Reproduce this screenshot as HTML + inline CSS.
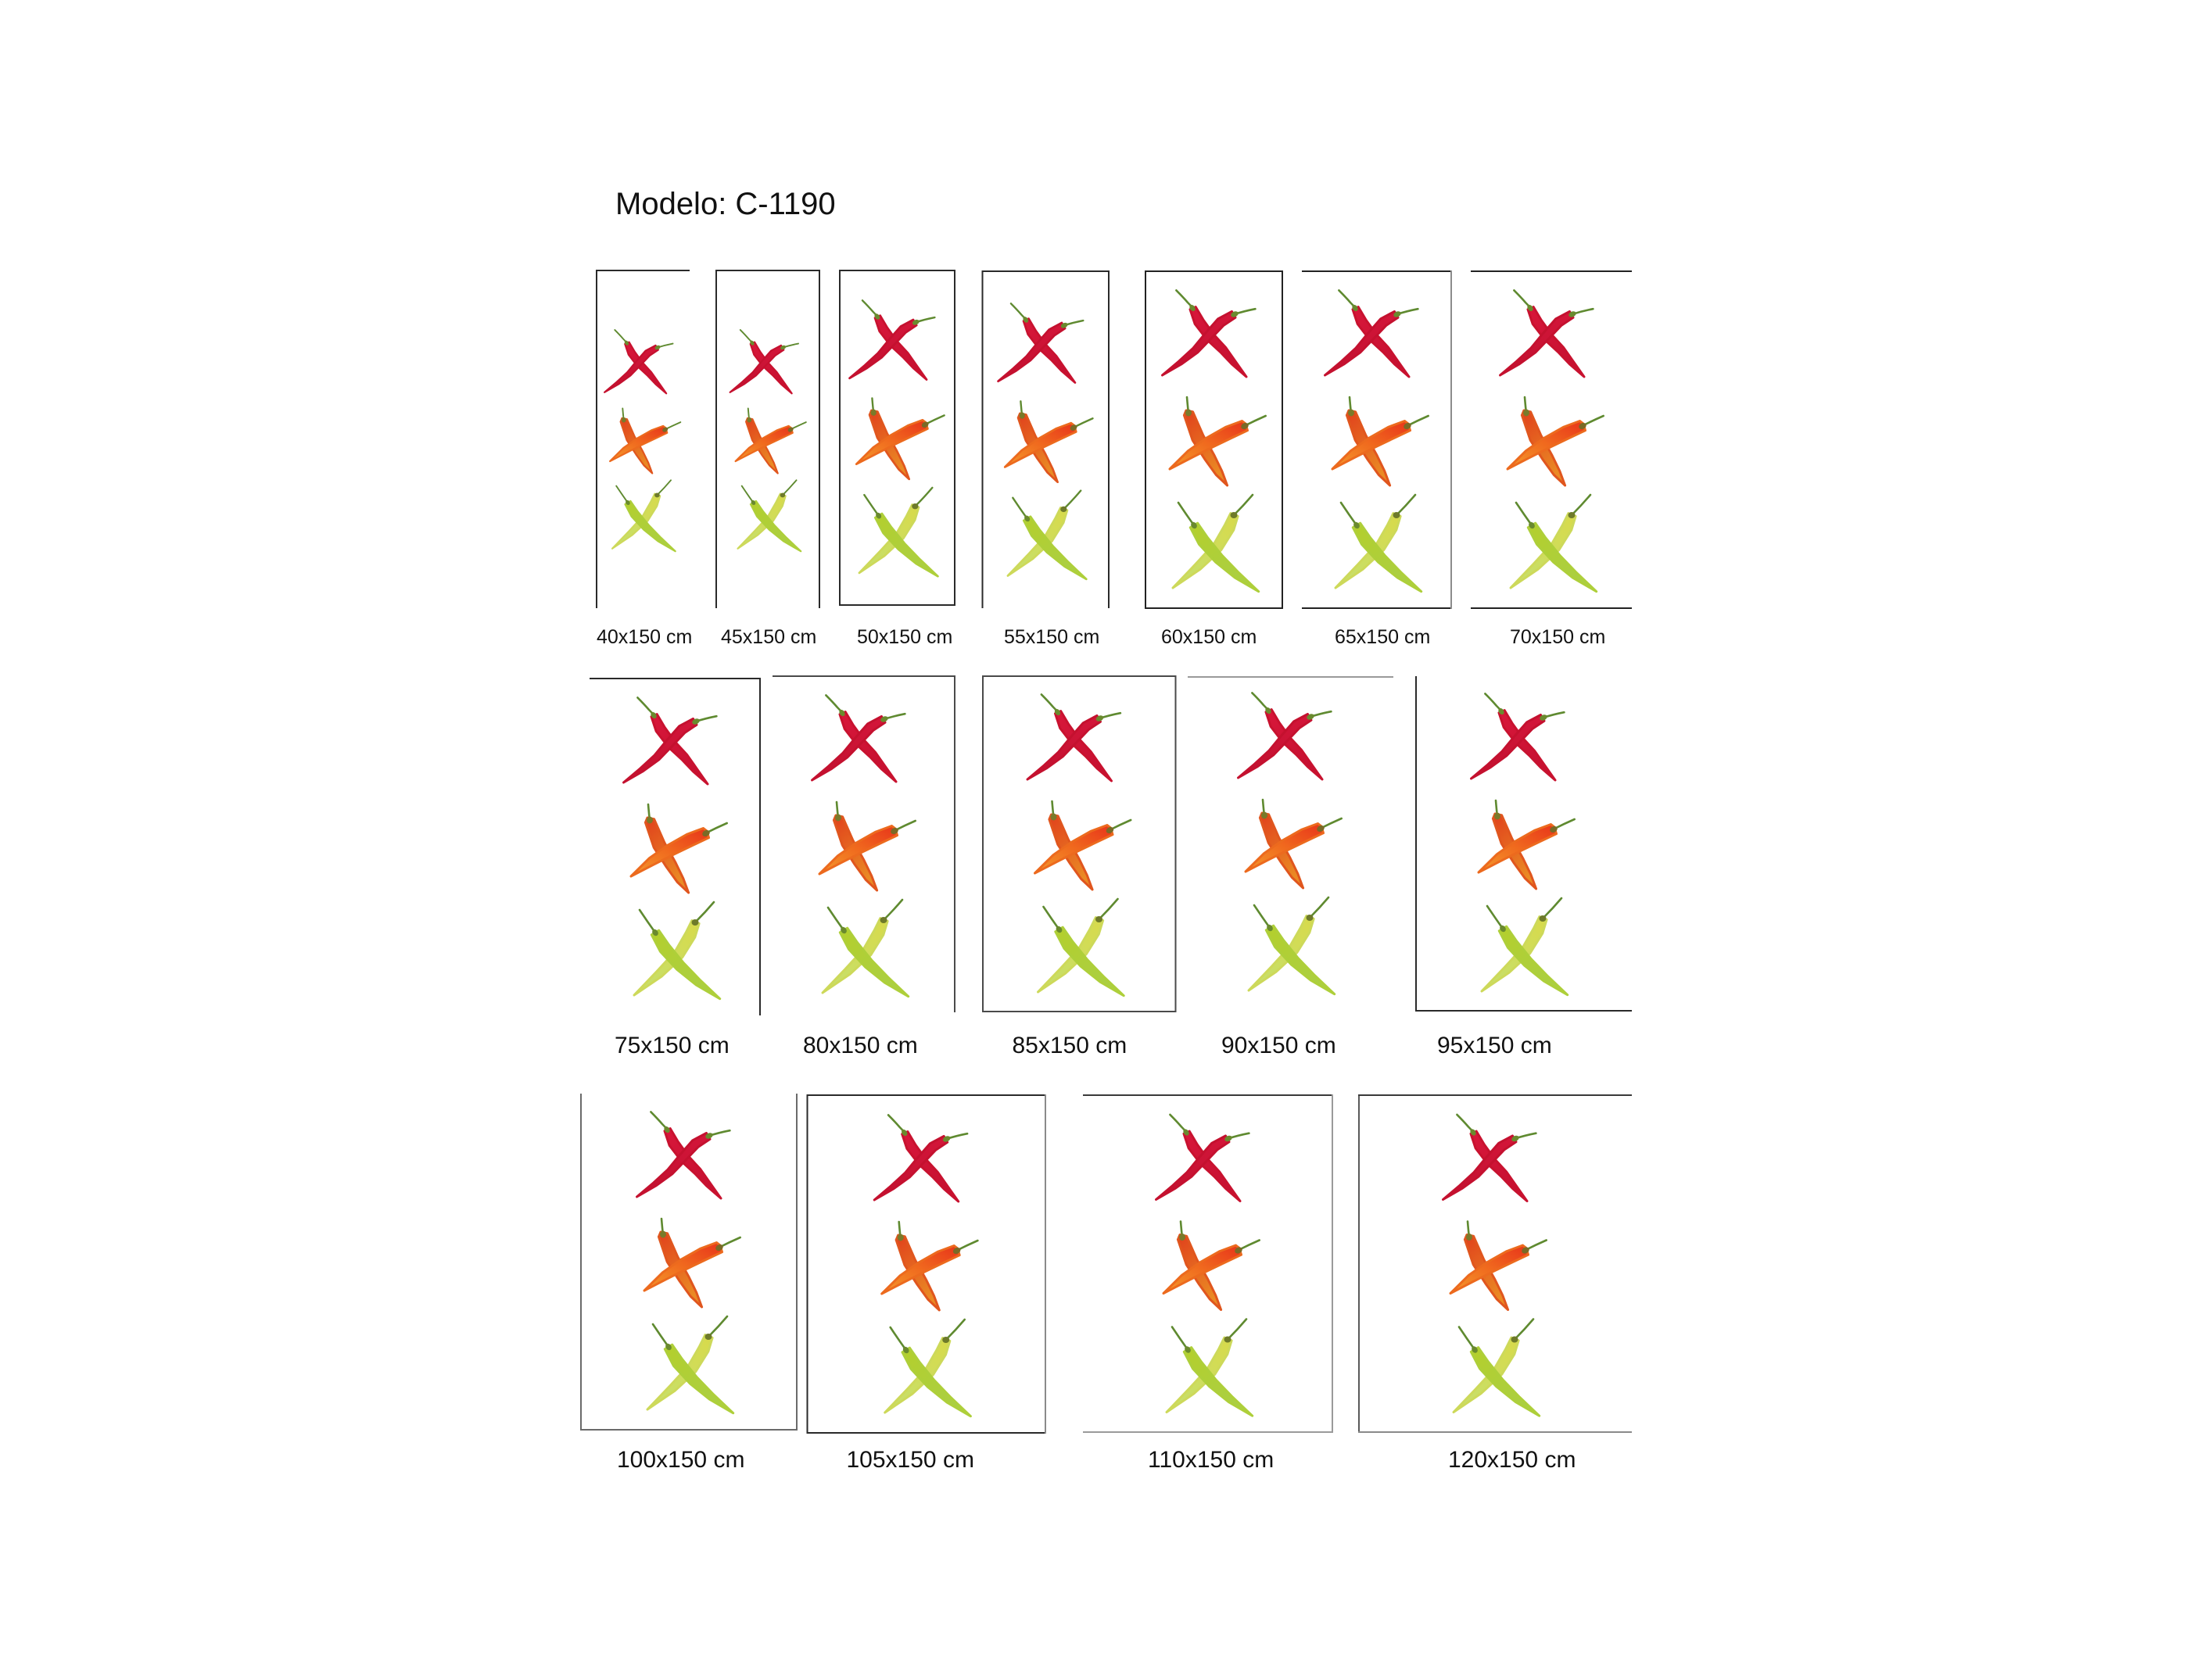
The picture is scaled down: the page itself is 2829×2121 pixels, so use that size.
<!DOCTYPE html>
<html>
<head>
<meta charset="utf-8">
<style>
  html, body { margin:0; padding:0; background:#ffffff; }
  body { width:2829px; height:2121px; overflow:hidden; }
  svg { display:block; }
  text { font-family: "Liberation Sans", Arial, sans-serif; fill:#111; }
</style>
</head>
<body>
<svg width="2829" height="2121" viewBox="0 0 2829 2121" xmlns="http://www.w3.org/2000/svg">
  <defs>
    <linearGradient id="gRedA" x1="0" y1="0" x2="1" y2="1">
      <stop offset="0" stop-color="#d8173a"/>
      <stop offset="1" stop-color="#c20f30"/>
    </linearGradient>
    <linearGradient id="gRedB" x1="1" y1="0" x2="0" y2="1">
      <stop offset="0" stop-color="#d4163a"/>
      <stop offset="1" stop-color="#c0102f"/>
    </linearGradient>
    <linearGradient id="gOrC" x1="0" y1="0" x2="0.5" y2="1">
      <stop offset="0" stop-color="#e0401c"/>
      <stop offset="1" stop-color="#ea8a24"/>
    </linearGradient>
    <linearGradient id="gOrD" x1="1" y1="0" x2="0" y2="1">
      <stop offset="0" stop-color="#e8341a"/>
      <stop offset="0.5" stop-color="#f06a1e"/>
      <stop offset="1" stop-color="#f49a2c"/>
    </linearGradient>
    <linearGradient id="gGrE" x1="0" y1="0" x2="1" y2="1">
      <stop offset="0" stop-color="#b4cf2c"/>
      <stop offset="1" stop-color="#a8cf48"/>
    </linearGradient>
    <linearGradient id="gGrF" x1="1" y1="0" x2="0" y2="1">
      <stop offset="0" stop-color="#d8da4a"/>
      <stop offset="1" stop-color="#c4e070"/>
    </linearGradient>

    <g id="cx">
      <!-- RED X -->
      <path d="M17.4,1.4 Q26,10 32,17 Q36,21 38.6,24.2" fill="none" stroke="#5f8a30" stroke-width="2.6" stroke-linecap="round"/>
      <polygon points="42.2,22.6 52.2,39.5 65.8,58.4 80.9,74.8 93,92.1 107,112 88.4,95.9 74.5,81.2 57,65 41.2,44.5 35,25.8"
               fill="url(#gRedA)" stroke="#c8122f" stroke-width="3" stroke-linejoin="round"/>
      <ellipse cx="38" cy="24" rx="4.5" ry="3.2" fill="#6a8a2e" transform="rotate(55 38 24)"/>
      <path d="M90.7,32.3 Q104,28 118.4,25.2" fill="none" stroke="#5f8a30" stroke-width="2.6" stroke-linecap="round"/>
      <polygon points="93,36.2 78,46.2 61.7,63.4 44.7,80.9 23.8,96 -0.5,110 20.8,92 39.1,75.1 54.3,56.6 70.8,37.8 88.4,28.4"
               fill="url(#gRedB)" stroke="#c4112f" stroke-width="3" stroke-linejoin="round"/>
      <ellipse cx="92" cy="32" rx="5" ry="3.4" fill="#6a8a2e" transform="rotate(-25 92 32)"/>

      <!-- ORANGE X -->
      <path d="M31,138 Q32,150 33,159" fill="none" stroke="#5f8a30" stroke-width="2.6" stroke-linecap="round"/>
      <polygon points="38.6,156.8 51.8,186.8 65.6,211.7 75.8,232.6 82.6,251 68.2,237.4 54.4,218.3 38.2,193.2 27.4,161.2 30,155"
               fill="url(#gOrC)" stroke="#e0561e" stroke-width="3" stroke-linejoin="round"/>
      <ellipse cx="33" cy="158" rx="4" ry="4.5" fill="#7a7a2a"/>
      <path d="M105,174.6 Q118,168 131.7,162" fill="none" stroke="#5f8a30" stroke-width="2.6" stroke-linecap="round"/>
      <polygon points="108.5,180.7 89,189.9 63.5,202.1 37.5,215.3 9,230 32.5,206.7 56.5,189.9 81,176.1 101.5,168.5 106,172"
               fill="url(#gOrD)" stroke="#ec6a1e" stroke-width="3" stroke-linejoin="round"/>
      <ellipse cx="105" cy="175" rx="5" ry="3.8" fill="#7a6a26" transform="rotate(-28 105 175)"/>

      <!-- GREEN X -->
      <path d="M115,263 Q104,276 91.5,288.5" fill="none" stroke="#5f8a30" stroke-width="2.6" stroke-linecap="round"/>
      <polygon points="96.1,290.4 90.8,308 74.7,333.7 48,358.3 13,382 42,351.7 65.3,326.3 79.2,302 86.9,286.6"
               fill="url(#gGrF)" stroke="#cdd95a" stroke-width="3" stroke-linejoin="round"/>
      <ellipse cx="91" cy="289" rx="4.5" ry="4" fill="#6e7a2a"/>
      <path d="M20,273 Q30,288 40,302" fill="none" stroke="#5f8a30" stroke-width="2.6" stroke-linecap="round"/>
      <polygon points="44.7,299.2 57.6,317.8 76.3,340.8 97.6,362.9 122.7,386.7 92.4,369.1 67.7,349.2 46.4,326.2 35.3,304.8"
               fill="url(#gGrE)" stroke="#aecf3a" stroke-width="3" stroke-linejoin="round"/>
      <ellipse cx="40" cy="302" rx="4.5" ry="3.5" fill="#6a8a2e" transform="rotate(55 40 302)"/>
    </g>
  </defs>

  <rect x="0" y="0" width="2829" height="2121" fill="#ffffff"/>

  <!-- Title -->
  <text x="787" y="274" font-size="40">Modelo: C-1190</text>

  <!-- ============ ROW 1 ============ -->
  <g fill="none" stroke-width="2" stroke-linecap="square">
    <path d="M763,346 H881 M763,346 V777" stroke="#2a2a2a"/>
    <path d="M916,346 H1048 M916,346 V777 M1048,346 V777" stroke="#2a2a2a"/>
    <path d="M1074,346 H1221 V774 H1074 Z" stroke="#2a2a2a"/>
    <path d="M1256.5,347 H1418 M1256.5,347 V777 M1418,347 V777" stroke="#2a2a2a"/>
    <path d="M1465,347 H1640 V778 H1465 Z" stroke="#222"/>
    <path d="M1666,347 H1856 M1666,778 H1856" stroke="#222"/>
    <path d="M1856,347 V778" stroke="#8c8c8c"/>
    <path d="M1882,347 H2086 M1882,778 H2086" stroke="#222"/>
  </g>

  <use href="#cx" transform="translate(773.5,421) scale(0.735)"/>
  <use href="#cx" transform="translate(934,421) scale(0.735)"/>
  <use href="#cx" transform="translate(1087,383) scale(0.916)"/>
  <use href="#cx" transform="translate(1277,387) scale(0.915)"/>
  <use href="#cx" transform="translate(1487,370)"/>
  <use href="#cx" transform="translate(1695,370)"/>
  <use href="#cx" transform="translate(1919,370)"/>

  <g font-size="25">
    <text x="763" y="823">40x150 cm</text>
    <text x="922" y="823">45x150 cm</text>
    <text x="1096" y="823">50x150 cm</text>
    <text x="1284" y="823">55x150 cm</text>
    <text x="1485" y="823">60x150 cm</text>
    <text x="1707" y="823">65x150 cm</text>
    <text x="1931" y="823">70x150 cm</text>
  </g>

  <!-- ============ ROW 2 ============ -->
  <g fill="none" stroke-width="2" stroke-linecap="square">
    <path d="M755,868 H972 M972,868 V1298" stroke="#2a2a2a"/>
    <path d="M989,865 H1221 M1221,865 V1294" stroke="#4a4a4a"/>
    <path d="M1257,865 H1503.5 V1294 H1257 Z" stroke="#4a4a4a"/>
    <path d="M1520,866 H1781" stroke="#9a9a9a"/>
    <path d="M1811,866 V1293 H2086" stroke="#2a2a2a"/>
  </g>

  <use href="#cx" transform="translate(798,891)"/>
  <use href="#cx" transform="translate(1039,888)"/>
  <use href="#cx" transform="translate(1314.5,887)"/>
  <use href="#cx" transform="translate(1584,885)"/>
  <use href="#cx" transform="translate(1882,886)"/>

  <g font-size="30">
    <text x="786" y="1347">75x150 cm</text>
    <text x="1027" y="1347">80x150 cm</text>
    <text x="1294.5" y="1347">85x150 cm</text>
    <text x="1562" y="1347">90x150 cm</text>
    <text x="1838" y="1347">95x150 cm</text>
  </g>

  <!-- ============ ROW 3 ============ -->
  <g fill="none" stroke-width="2" stroke-linecap="square">
    <path d="M743,1400 V1829 H1019 V1400" stroke="#6a6a6a"/>
    <path d="M1337,1401 H1032.5 V1833 H1337" stroke="#2a2a2a"/>
    <path d="M1337,1401 V1833" stroke="#8a8a8a"/>
    <path d="M1386,1401 H1704" stroke="#3a3a3a"/>
    <path d="M1704,1401 V1832 H1386" stroke="#9a9a9a"/>
    <path d="M1738,1401 V1832" stroke="#5a5a5a"/>
    <path d="M1738,1401 H2086" stroke="#3a3a3a"/>
    <path d="M1738,1832 H2086" stroke="#8a8a8a"/>
  </g>

  <use href="#cx" transform="translate(815,1421)"/>
  <use href="#cx" transform="translate(1118.7,1425)"/>
  <use href="#cx" transform="translate(1479,1424.5)"/>
  <use href="#cx" transform="translate(1846,1424.5)"/>

  <g font-size="30">
    <text x="789" y="1877">100x150 cm</text>
    <text x="1082.5" y="1877">105x150 cm</text>
    <text x="1468" y="1877">110x150 cm</text>
    <text x="1852" y="1877">120x150 cm</text>
  </g>
</svg>
</body>
</html>
